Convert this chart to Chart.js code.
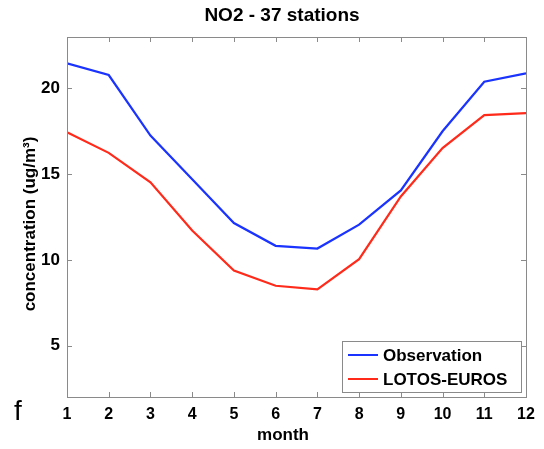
<!DOCTYPE html>
<html>
<head>
<meta charset="utf-8">
<script src="https://cdn.jsdelivr.net/npm/chart.js@4"></script>
<style>
  html, body { margin: 0; padding: 0; background: #fff; }
  #wrap { width: 544px; height: 449px; position: relative; }
</style>
</head>
<body>
<div id="wrap"><canvas id="no2Chart" width="544" height="449"></canvas></div>
<script>
// data
const months = [1, 2, 3, 4, 5, 6, 7, 8, 9, 10, 11, 12];
const observation = [21.46, 20.78, 17.25, 14.7, 12.15, 10.82, 10.66, 12.05, 14.05, 17.5, 20.39, 20.88];
const lotosEuros = [17.44, 16.24, 14.52, 11.71, 9.37, 8.49, 8.28, 10.04, 13.7, 16.52, 18.44, 18.56];
const yTicks = [5, 10, 15, 20];
const xTicks = months;

const FONT = '"Liberation Sans", Arial, Helvetica, sans-serif';

// box, inward ticks on all four sides, titles, legend and panel letter
const decorPlugin = {
    id: 'decor',
    afterDraw(chart) {
        const ctx = chart.ctx;
        const a = chart.chartArea;
        const xs = chart.scales.x;
        const ys = chart.scales.y;
        const tl = 5;

        ctx.save();
        ctx.strokeStyle = '#8a8a8a';
        ctx.lineWidth = 1;
        ctx.strokeRect(a.left + 0.5, a.top + 0.5, a.right - a.left, a.bottom - a.top);

        ctx.beginPath();
        xTicks.forEach(v => {
            const px = Math.round(xs.getPixelForValue(v)) + 0.5;
            ctx.moveTo(px, a.bottom); ctx.lineTo(px, a.bottom - tl);
            ctx.moveTo(px, a.top);    ctx.lineTo(px, a.top + tl);
        });
        yTicks.forEach(v => {
            const py = Math.round(ys.getPixelForValue(v)) + 0.5;
            ctx.moveTo(a.left, py);  ctx.lineTo(a.left + tl, py);
            ctx.moveTo(a.right, py); ctx.lineTo(a.right - tl, py);
        });
        ctx.stroke();

        // main title
        ctx.fillStyle = '#000';
        ctx.textAlign = 'center';
        ctx.textBaseline = 'middle';
        ctx.font = 'bold 19px ' + FONT;
        ctx.fillText('NO2 - 37 stations', 282, 16);

        // axis titles
        ctx.font = 'bold 17px ' + FONT;
        ctx.fillText('month', 283, 435);
        ctx.save();
        ctx.translate(30, 224);
        ctx.rotate(-Math.PI / 2);
        ctx.fillText('concentration (ug/m\u00B3)', 0, 0);
        ctx.restore();

        // panel letter
        ctx.font = '28px ' + FONT;
        ctx.fillText('f', 18, 412);

        // legend
        const bx = 342, by = 341, bw = 179, bh = 51;
        ctx.fillStyle = '#fff';
        ctx.fillRect(bx, by, bw, bh);
        ctx.strokeStyle = '#8a8a8a';
        ctx.strokeRect(bx + 0.5, by + 0.5, bw, bh);
        ctx.font = 'bold 17px ' + FONT;
        ctx.textAlign = 'left';
        chart.data.datasets.forEach((ds, i) => {
            const cy = 355 + i * 24;
            ctx.strokeStyle = ds.borderColor;
            ctx.lineWidth = 2;
            ctx.beginPath();
            ctx.moveTo(348, cy); ctx.lineTo(378, cy);
            ctx.stroke();
            ctx.fillStyle = '#000';
            ctx.fillText(ds.label, 383, cy + 1);
        });
        ctx.restore();
    }
};

new Chart(document.getElementById('no2Chart'), {
    type: 'line',
    data: {
        datasets: [
            {
                label: 'Observation',
                data: months.map((m, i) => ({ x: m, y: observation[i] })),
                borderColor: '#1a33ff',
                borderWidth: 2.2,
                pointRadius: 0,
                tension: 0,
            },
            {
                label: 'LOTOS-EUROS',
                data: months.map((m, i) => ({ x: m, y: lotosEuros[i] })),
                borderColor: '#ff2a1a',
                borderWidth: 2.2,
                pointRadius: 0,
                tension: 0,
            }
        ]
    },
    options: {
        responsive: false,
        animation: false,
        layout: { padding: { left: 0, right: 18, top: 37, bottom: 0 } },
        plugins: {
            legend: { display: false },
            title: { display: false },
            tooltip: { enabled: false }
        },
        scales: {
            x: {
                type: 'linear',
                min: 1,
                max: 12,
                afterBuildTicks: s => { s.ticks = xTicks.map(v => ({ value: v })); },
                afterFit: s => { s.height = 52; },
                grid: { display: false, drawTicks: false },
                border: { display: false },
                ticks: {
                    padding: 8,
                    color: '#000',
                    font: { family: FONT, size: 16, weight: 'bold' }
                }
            },
            y: {
                type: 'linear',
                min: 2,
                max: 23,
                afterBuildTicks: s => { s.ticks = yTicks.map(v => ({ value: v })); },
                afterFit: s => { s.width = 67; },
                grid: { display: false, drawTicks: false },
                border: { display: false },
                ticks: {
                    padding: 7,
                    color: '#000',
                    font: { family: FONT, size: 17, weight: 'bold' }
                }
            }
        }
    },
    plugins: [decorPlugin]
});
</script>
</body>
</html>
